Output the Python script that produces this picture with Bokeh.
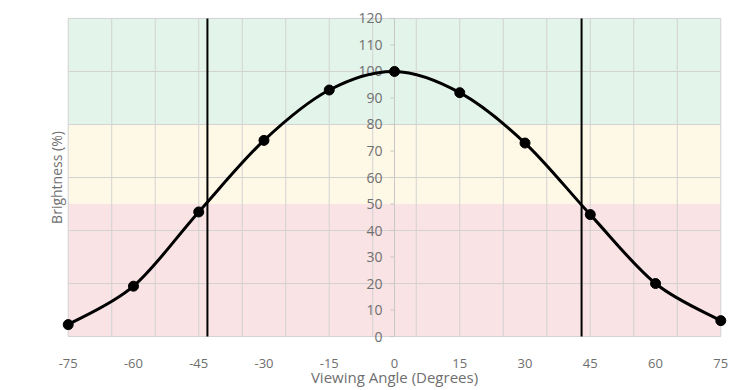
import numpy as np
from bokeh.plotting import figure
from bokeh.models import Range1d, FixedTicker, ColumnDataSource
from bokeh.core.properties import value
from bokeh.embed import file_html
from bokeh.resources import INLINE

# ---- data ----
angles = [-75, -60, -45, -30, -15, 0, 15, 30, 45, 60, 75]
brightness = [4.5, 19, 47, 74, 93, 100, 92, 73, 46, 20, 6]
x_ticks = [-75, -60, -45, -30, -15, 0, 15, 30, 45, 60, 75]
x_tick_labels = ["-75", "-60", "-45", "-30", "-15", "0", "15", "30", "45", "60", "75"]
y_ticks = [0, 10, 20, 30, 40, 50, 60, 70, 80, 90, 100, 110, 120]
x_grid = [-75, -65, -55, -45, -35, -25, -15, -5, 5, 15, 25, 35, 45, 55, 65, 75]
y_grid = [0, 20, 40, 60, 80, 100, 120]
band_bottom = [0, 50, 80]
band_top = [50, 80, 120]
band_colors = ["#f9e3e4", "#fef8e6", "#e3f4ea"]
limit_angles = [-43, 43]

X_MIN, X_MAX = -75, 75
Y_MIN, Y_MAX = 0, 120

FONT = "Open Sans"
TEXT = "#6f6f6f"
GRID = "#d2d2d2"

p = figure(frame_width=670, frame_height=334,
           x_range=Range1d(-77, 77), y_range=Range1d(-3, 123),
           output_backend="svg", toolbar_location=None,
           min_border_left=59, min_border_right=12, min_border_top=10,
           min_border_bottom=30)
p.outline_line_color = None
p.background_fill_color = "white"
p.xgrid.visible = False
p.ygrid.visible = False

# bands
p.quad(left=X_MIN, right=X_MAX, bottom=band_bottom, top=band_top,
       fill_color=band_colors, line_color=None, level="image")

# grid lines limited to the plot area
p.segment(x0=x_grid, x1=x_grid, y0=Y_MIN, y1=Y_MAX, line_color=GRID,
          line_width=1, level="underlay")
p.segment(x0=X_MIN, x1=X_MAX, y0=y_grid, y1=y_grid, line_color=GRID,
          line_width=1, level="underlay")
# central y axis line
p.segment(x0=[0], x1=[0], y0=Y_MIN, y1=Y_MAX, line_color="#c8c8c8",
          line_width=1, level="underlay")

# x axis
xa = p.xaxis[0]
xa.ticker = FixedTicker(ticks=x_ticks)
xa.major_label_overrides = {t: lab for t, lab in zip(x_ticks, x_tick_labels)}
xa.axis_label = "Viewing Angle (Degrees)"
xa.axis_line_color = None
xa.major_tick_line_color = None
xa.minor_tick_line_color = None
xa.major_label_standoff = 8
xa.axis_label_standoff = -4
xa.major_label_text_font = FONT
xa.major_label_text_font_size = "13px"
xa.major_label_text_color = TEXT
xa.axis_label_text_font = FONT
xa.axis_label_text_font_size = "15px"
xa.axis_label_text_font_style = "normal"
xa.axis_label_text_color = TEXT

# left axis: label only
ya = p.yaxis[0]
ya.ticker = FixedTicker(ticks=[])
ya.axis_line_color = None
ya.major_tick_line_color = None
ya.minor_tick_line_color = None
ya.axis_label = "Brightness (%)"
ya.axis_label_standoff = -6
ya.axis_label_text_font = FONT
ya.axis_label_text_font_size = "14px"
ya.axis_label_text_font_style = "normal"
ya.axis_label_text_color = TEXT

# y tick labels at x=0
ysrc = ColumnDataSource(dict(x=[0] * len(y_ticks), y=y_ticks,
                             t=[str(v) for v in y_ticks]))
p.text(x="x", y="y", text="t", source=ysrc, x_offset=-12,
       text_align="right", text_baseline="middle",
       text_font=value(FONT), text_font_size="14px", text_color=TEXT)
dsrc = ColumnDataSource(dict(x=[-0.5] * len(y_ticks), y=y_ticks))
p.scatter(x="x", y="y", source=dsrc, marker="dash", size=4, line_color="#c8c8c8")

# smooth curve (Catmull-Rom -> cubic Bezier)
xs = np.array(angles, dtype=float)
ys = np.array(brightness, dtype=float)
n = len(xs)
x0, y0, x1, y1, cx0, cy0, cx1, cy1 = [], [], [], [], [], [], [], []
for i in range(n - 1):
    ip = max(i - 1, 0)
    inx = min(i + 2, n - 1)
    x0.append(xs[i]); y0.append(ys[i])
    x1.append(xs[i + 1]); y1.append(ys[i + 1])
    cx0.append(xs[i] + (xs[i + 1] - xs[ip]) / 6)
    cy0.append(ys[i] + (ys[i + 1] - ys[ip]) / 6)
    cx1.append(xs[i + 1] - (xs[inx] - xs[i]) / 6)
    cy1.append(ys[i + 1] - (ys[inx] - ys[i]) / 6)
p.bezier(x0=x0, y0=y0, x1=x1, y1=y1, cx0=cx0, cy0=cy0, cx1=cx1, cy1=cy1,
         line_color="black", line_width=3)
p.scatter(angles, brightness, size=10, fill_color="black", line_color="black")

# limit lines
p.segment(x0=limit_angles, x1=limit_angles, y0=Y_MIN, y1=Y_MAX,
          line_color="black", line_width=2)

open("out.html", "w").write(file_html(p, INLINE))
